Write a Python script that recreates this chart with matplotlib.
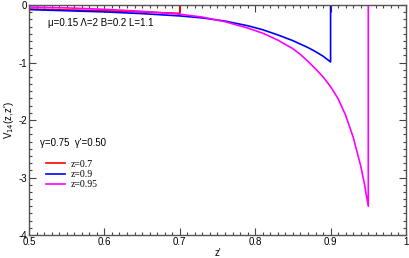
import matplotlib
matplotlib.use("Agg")
import matplotlib.pyplot as plt
from matplotlib.ticker import MultipleLocator, FixedLocator, FixedFormatter

plt.rcParams['axes.unicode_minus'] = False
plt.rcParams['font.family'] = ['Liberation Sans', 'DejaVu Sans']

# z = 0.7
zp_red = [0.5, 0.55, 0.6, 0.65, 0.7, 0.7, 1.0]
v_red = [-0.07, -0.085, -0.10, -0.12, -0.145, 0.0, 0.0]

# z = 0.9
zp_blue = [0.5, 0.55, 0.6, 0.65, 0.7, 0.73, 0.76, 0.79, 0.81, 0.83, 0.85,
           0.87, 0.88, 0.89, 0.9, 0.9, 1.0]
v_blue = [-0.08, -0.10, -0.12, -0.15, -0.19, -0.225, -0.28, -0.36, -0.43, -0.52,
          -0.62, -0.74, -0.81, -0.89, -0.99, 0.0, 0.0]

# z = 0.95
zp_pink = [0.5, 0.55, 0.6, 0.65, 0.7, 0.73, 0.76, 0.79, 0.81, 0.83, 0.85, 0.86,
           0.87, 0.88, 0.89, 0.9, 0.91, 0.92, 0.93, 0.94, 0.945, 0.95, 0.95, 1.0]
v_pink = [-0.035, -0.05, -0.075, -0.11, -0.16, -0.21, -0.29, -0.40, -0.49,
          -0.61, -0.76, -0.86, -0.98, -1.11, -1.25, -1.42, -1.63, -1.92, -2.30,
          -2.80, -3.12, -3.50, 0.0, 0.0]

xticks = [0.5, 0.6, 0.7, 0.8, 0.9, 1.0]
xticklabels = ["0.5", "0.6", "0.7", "0.8", "0.9", "1"]
yticks = [-4, -3, -2, -1, 0]
yticklabels = ["-4", "-3", "-2", "-1", "0"]

fig = plt.figure(figsize=(4.1, 2.58), dpi=100)
ax = fig.add_axes([0.0707, 0.0891, 0.9195, 0.8915])

ax.plot(zp_red, v_red, color='#ff0000', lw=1.2, label='z=0.7')
ax.plot(zp_blue, v_blue, color='#0000ff', lw=1.2, label='z=0.9')
ax.plot(zp_pink, v_pink, color='#ff00ff', lw=1.2, label='z=0.95')

ax.set_xlim(0.5, 1.0)
ax.set_ylim(-4, 0)
ax.xaxis.set_major_locator(FixedLocator(xticks))
ax.xaxis.set_major_formatter(FixedFormatter(xticklabels))
ax.xaxis.set_minor_locator(MultipleLocator(0.01))
ax.yaxis.set_major_locator(FixedLocator(yticks))
ax.yaxis.set_major_formatter(FixedFormatter(yticklabels))
ax.yaxis.set_minor_locator(MultipleLocator(0.125))

ax.tick_params(which='both', direction='in', top=True, right=True, labelsize=7,
               color='#444444', pad=1.5)
ax.tick_params(which='major', length=5, width=0.8)
ax.tick_params(which='minor', length=2.5, width=0.8)
for s in ax.spines.values():
    s.set_color('#555555')
    s.set_linewidth(1.0)

ax.set_xlabel("z'", fontsize=7, labelpad=1)
ax.set_ylabel(r"V$_{14}$(z,z')", fontsize=7, labelpad=2)

ax.text(0.525, -0.31, "\u03bc=0.15 \u039b=2 B=0.2 L=1.1", fontsize=7, va='center')
ax.text(0.514, -2.40, "\u03b3=0.75  \u03b3'=0.50", fontsize=7, va='center')

leg = ax.legend(loc='upper left', bbox_to_anchor=(0.035, 0.345), frameon=False,
                prop={'family': 'Liberation Serif', 'size': 7},
                handlelength=1.9, handletextpad=0.6, labelspacing=0.15,
                borderaxespad=0)

fig.savefig("out.png", dpi=100)
